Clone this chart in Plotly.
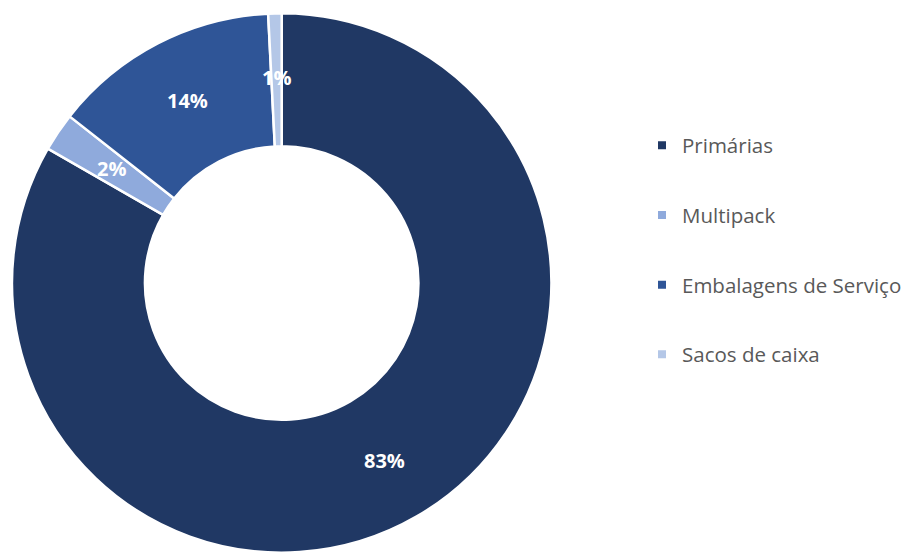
import math
import plotly.graph_objects as go

# Share of packaging by type (percent)
categories = ["Primárias", "Multipack", "Embalagens de Serviço", "Sacos de caixa"]
values = [83.3, 2.3, 13.6, 0.8]
colors = ["#203864", "#8FAADC", "#2F5597", "#B4C7E7"]

W, H = 907, 554
HOLE = 0.507
DOM_X = [12 / W, 552 / W]
DOM_Y = [1 / H, 541 / H]

fig = go.Figure()

fig.add_trace(go.Pie(
    labels=categories,
    values=values,
    sort=False,
    direction="clockwise",
    rotation=0,
    hole=HOLE,
    marker=dict(colors=colors, line=dict(color="white", width=2.5)),
    textinfo="none",
    domain=dict(x=DOM_X, y=DOM_Y),
    showlegend=False,
    hoverinfo="label+percent",
))

# Percentage labels centred in the ring, at each slice's mid-angle
total = sum(values)
cx = (DOM_X[0] + DOM_X[1]) / 2 * W
cy = (DOM_Y[0] + DOM_Y[1]) / 2 * H
r_out = (DOM_X[1] - DOM_X[0]) * W / 2
r_mid = r_out * (1 + HOLE) / 2 + 2
cum = 0.0
for v in values:
    mid = (cum + v / 2) / total * 2 * math.pi
    cum += v
    px = cx + r_mid * math.sin(mid)
    py = cy + r_mid * math.cos(mid)
    fig.add_annotation(
        x=px / W, y=py / H, xref="paper", yref="paper",
        text=f"{round(v / total * 100)}%", showarrow=False,
        font=dict(family="Open Sans", size=20, color="white", weight="bold"),
        xanchor="center", yanchor="middle",
    )

# Legend entries, one group each so they can be spaced apart
for name, col in zip(categories, colors):
    fig.add_trace(go.Scatter(
        x=[None], y=[None], mode="markers", name=name,
        legendgroup=name,
        marker=dict(symbol="square", size=8, color=col),
    ))

fig.update_layout(
    width=W, height=H,
    margin=dict(l=0, r=0, t=0, b=0),
    paper_bgcolor="white",
    plot_bgcolor="white",
    xaxis=dict(visible=False),
    yaxis=dict(visible=False),
    legend=dict(
        x=0.709, y=1 - 250 / H, xanchor="left", yanchor="middle",
        font=dict(family="Open Sans", size=20.5, color="#595959"),
        tracegroupgap=40,
        itemwidth=30,
        bgcolor="rgba(0,0,0,0)",
    ),
)

fig.write_html("out.html")
